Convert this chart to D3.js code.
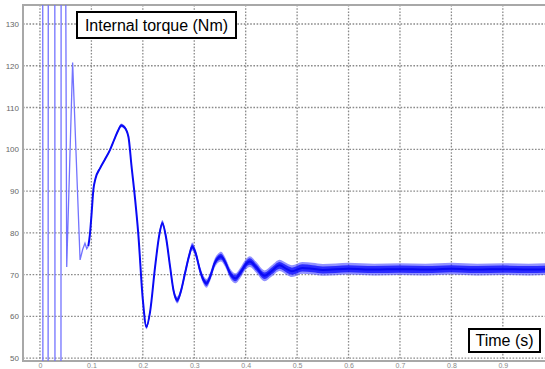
<!DOCTYPE html>
<html>
<head>
<meta charset="utf-8">
<script src="https://cdn.jsdelivr.net/npm/d3@7"></script>
<style>
    body { margin: 0; background: #fff; }
    svg { display: block; }
</style>
</head>
<body>
<div id="chart"></div>
<script>
// time (s) and internal torque (Nm)
const times = [0.000, 0.005, 0.006, 0.0155, 0.0165, 0.0285, 0.0295, 0.0405, 0.0415, 0.047,
    0.052, 0.0635, 0.078, 0.083, 0.0875, 0.091, 0.094, 0.097, 0.100, 0.104, 0.108, 0.117,
    0.126, 0.136, 0.145, 0.152, 0.158, 0.164, 0.172, 0.178, 0.185, 0.191, 0.200, 0.207,
    0.214, 0.224, 0.232, 0.238, 0.245, 0.253, 0.260, 0.267, 0.274, 0.282, 0.290, 0.296,
    0.303, 0.311, 0.318, 0.324, 0.331, 0.340, 0.347, 0.352, 0.360, 0.370, 0.380, 0.390,
    0.400, 0.408, 0.420, 0.437, 0.450, 0.466, 0.480, 0.490, 0.510, 0.530, 0.550, 0.600,
    0.650, 0.700, 0.750, 0.800, 0.850, 0.900, 0.950, 0.985];
const torque = [250, 250, -50, -50, 250, 250, -50, -50, 250, 250,
    71.8, 120.8, 73.5, 76.0, 77.5, 76.2, 76.8, 79.5, 84.0, 90.5, 93.0, 95.5,
    97.5, 99.8, 102.5, 104.5, 105.7, 105.3, 103.0, 96.0, 88.0, 80.0, 64.0, 57.5,
    61.0, 72.0, 79.5, 82.3, 79.0, 71.9, 66.0, 63.9, 66.0, 70.3, 74.5, 76.7,
    75.0, 71.1, 68.7, 67.9, 69.5, 72.8, 74.0, 74.3, 73.0, 70.2, 69.1, 70.5,
    72.4, 73.1, 71.8, 69.7, 70.8, 72.2, 71.3, 70.8, 71.6, 71.4, 71.1, 71.4,
    71.2, 71.3, 71.2, 71.4, 71.2, 71.3, 71.2, 71.3];
// half width of the ripple band around the signal (Nm)
const ripple = [0, 0, 0, 0, 0, 0, 0, 0, 0, 0,
    0, 0, 0, 0, 0, 0, 0, 0.1, 0.2, 0.2, 0.25, 0.3,
    0.3, 0.3, 0.35, 0.4, 0.45, 0.45, 0.4, 0.4, 0.4, 0.45, 0.5, 0.6,
    0.6, 0.65, 0.7, 0.75, 0.75, 0.8, 0.8, 0.85, 0.85, 0.9, 0.9, 0.95,
    0.95, 1.0, 1.0, 1.05, 1.05, 1.1, 1.1, 1.15, 1.15, 1.2, 1.2, 1.25,
    1.25, 1.3, 1.3, 1.3, 1.35, 1.35, 1.4, 1.4, 1.4, 1.4, 1.4, 1.4,
    1.4, 1.4, 1.4, 1.4, 1.4, 1.4, 1.4, 1.4];

const xTicks = [0, 0.1, 0.2, 0.3, 0.4, 0.5, 0.6, 0.7, 0.8, 0.9];
const xTickLabels = ['0', '0.1', '0.2', '0.3', '0.4', '0.5', '0.6', '0.7', '0.8', '0.9'];
const yTicks = [50, 60, 70, 80, 90, 100, 110, 120, 130];

const yTitle = 'Internal torque (Nm)';
const xTitle = 'Time (s)';

const data = times.map((t, i) => ({ t: t, v: torque[i], r: ripple[i] }));

const margin = { top: 5, left: 23, bottom: 8, right: 0 };
const fullWidth = 545;
const fullHeight = 369;
const width = fullWidth - margin.left - margin.right;
const height = fullHeight - margin.top - margin.bottom;

const svg = d3.select('#chart')
    .append('svg')
        .attr('width', fullWidth)
        .attr('height', fullHeight)
    .append('g')
        .attr('transform', `translate(${margin.left}, ${margin.top})`);

const xScale = d3.scaleLinear()
    .domain([-0.033, 0.982])
    .range([0, width]);

const yScale = d3.scaleLinear()
    .domain([49.3, 134.55])
    .range([height, 0]);

svg.append('defs').append('clipPath')
        .attr('id', 'plot-clip')
    .append('rect')
        .attr('width', width)
        .attr('height', height);

// dotted grid
svg.append('g')
    .selectAll('line')
    .data(yTicks)
    .enter()
    .append('line')
        .attr('x1', 0)
        .attr('x2', width)
        .attr('y1', d => yScale(d))
        .attr('y2', d => yScale(d))
        .attr('stroke', '#8a8a8a')
        .attr('stroke-width', 1.3)
        .attr('stroke-dasharray', '1.6,1.6');

svg.append('g')
    .selectAll('line')
    .data(xTicks)
    .enter()
    .append('line')
        .attr('x1', d => xScale(d))
        .attr('x2', d => xScale(d))
        .attr('y1', 0)
        .attr('y2', height)
        .attr('stroke', '#8a8a8a')
        .attr('stroke-width', 1.3)
        .attr('stroke-dasharray', '1.6,1.6');

// axes
const yAxis = d3.axisLeft(yScale)
    .tickValues(yTicks)
    .tickSize(0)
    .tickPadding(4);

const gy = svg.append('g').call(yAxis);
gy.select('.domain').remove();
gy.selectAll('text')
    .attr('fill', '#666')
    .style('font-family', 'Liberation Sans Narrow, Arial Narrow, sans-serif')
    .style('font-size', '8px');

const xAxis = d3.axisBottom(xScale)
    .tickValues(xTicks)
    .tickFormat((d, i) => xTickLabels[i])
    .tickSize(0)
    .tickPadding(2);

const gx = svg.append('g')
        .attr('transform', `translate(0, ${height})`)
    .call(xAxis);
gx.select('.domain').remove();
gx.selectAll('text')
    .attr('fill', '#888')
    .style('font-family', 'Liberation Sans Narrow, Arial Narrow, sans-serif')
    .style('font-size', '7px');

// frame lines (left, top, bottom)
svg.append('path')
    .attr('d', `M${width},0 H0 V${height} H${width}`)
    .attr('fill', 'none')
    .attr('stroke', '#a8a8a8')
    .attr('stroke-width', 2);

// signal
const plot = svg.append('g').attr('clip-path', 'url(#plot-clip)');

const band = k => d3.area()
    .curve(d3.curveMonotoneX)
    .x(d => xScale(d.t))
    .y0(d => yScale(d.v - d.r * k))
    .y1(d => yScale(d.v + d.r * k));

const line = d3.line()
    .x(d => xScale(d.t))
    .y(d => yScale(d.v));

const early = data.filter(d => d.t <= 0.094);
const late = data.filter(d => d.t >= 0.094);

plot.append('path')
    .datum(late)
    .attr('d', band(1))
    .attr('fill', '#4a4aff')
    .attr('fill-opacity', 0.6);

plot.append('path')
    .datum(late)
    .attr('d', band(0.6))
    .attr('fill', '#0000ff')
    .attr('fill-opacity', 0.7);

plot.append('path')
    .datum(early)
    .attr('d', line)
    .attr('fill', 'none')
    .attr('stroke', '#7373ff')
    .attr('stroke-width', 1.3);

plot.append('path')
    .datum(late)
    .attr('d', line.curve(d3.curveMonotoneX))
    .attr('fill', 'none')
    .attr('stroke', '#0a0af5')
    .attr('stroke-width', 2);

// title boxes
function labelBox(text, x, y, w, h) {
    const g = svg.append('g')
        .attr('transform', `translate(${x - margin.left}, ${y - margin.top})`);
    g.append('rect')
        .attr('width', w)
        .attr('height', h)
        .attr('fill', '#fff')
        .attr('stroke', '#000')
        .attr('stroke-width', 2);
    g.append('text')
        .attr('x', w / 2)
        .attr('y', h / 2)
        .attr('dy', '0.35em')
        .attr('text-anchor', 'middle')
        .attr('fill', '#000')
        .style('font-family', 'Liberation Sans Narrow, Arial Narrow, sans-serif')
        .style('font-size', '16px')
        .text(text);
}

labelBox(yTitle, 77, 12, 159, 26);
labelBox(xTitle, 469, 329, 71, 23);
</script>
</body>
</html>
